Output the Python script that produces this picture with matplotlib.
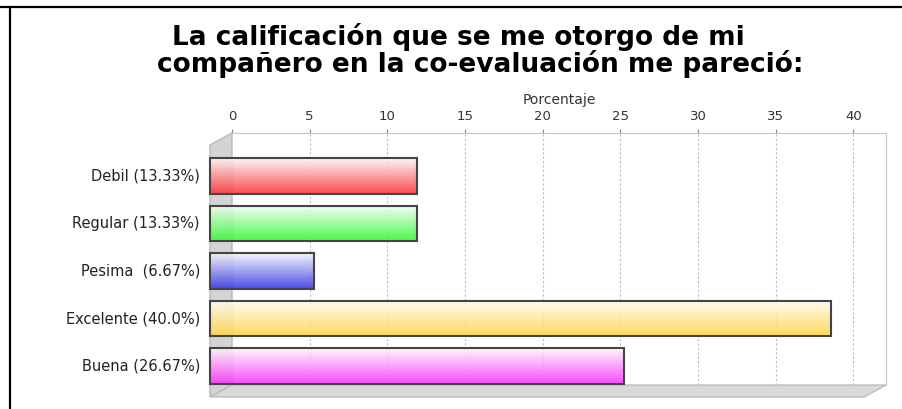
import matplotlib.pyplot as plt
import matplotlib.transforms as mtransforms
from matplotlib.patches import Rectangle, Polygon
from matplotlib.lines import Line2D
import numpy as np

# datos
categorias = ["Debil (13.33%)", "Regular (13.33%)", "Pesima  (6.67%)",
              "Excelente (40.0%)", "Buena (26.67%)"]
porcentajes = [13.33, 13.33, 6.67, 40.0, 26.67]
colores = ["#f83434", "#34f834", "#3434e0", "#ffd445", "#f834f8"]
ticks = [0, 5, 10, 15, 20, 25, 30, 35, 40]

W, H = 902, 409
fig = plt.figure(figsize=(W / 100, H / 100), dpi=100)

# back wall of the 3d plot (pixel coords from the picture)
bx0, bx1, by0, by1 = 232, 886, 133, 385
ax = fig.add_axes([bx0 / W, 1 - by1 / H, (bx1 - bx0) / W, (by1 - by0) / H])

dx, dy = -22, -12
off = mtransforms.ScaledTranslation(dx / 100, dy / 100, fig.dpi_scale_trans)
tr_front = ax.transData + off
tr_front_ax = ax.transAxes + off

# left wall and floor
inv = ax.transAxes.inverted()
p_back = [ax.transAxes.transform(p) for p in [(0, 1), (0, 0)]]
p_front = [tr_front_ax.transform(p) for p in [(0, 0), (0, 1)]]
wall_pts = [inv.transform(p) for p in p_back + p_front]
ax.add_patch(Polygon(wall_pts, closed=True, transform=ax.transAxes, fc="#d4d4d4",
                     ec="#b8b8b8", lw=1, clip_on=False, zorder=1))
floor_back = [ax.transAxes.transform(p) for p in [(0, 0), (1, 0)]]
floor_front = [tr_front_ax.transform(p) for p in [(1, 0), (0, 0)]]
floor_pts = [inv.transform(p) for p in floor_back + floor_front]
ax.add_patch(Polygon(floor_pts, closed=True, transform=ax.transAxes, fc="#d9d9d9",
                     ec="#bdbdbd", lw=1, clip_on=False, zorder=1))

# gridlines on the back wall and on the floor
xmax = 42.1
for t in ticks[1:]:
    ax.axvline(t, color="#bcbcbc", lw=0.8, ls=(0, (2, 2)), zorder=0)
    a = ax.transData.transform((t, 4.65))
    b = tr_front.transform((t, 4.65))
    ax.add_line(Line2D([a[0], b[0]], [a[1], b[1]], transform=None, color="#c4c4c4",
                       lw=0.7, ls=(0, (2, 2)), zorder=1.5, clip_on=False))

# bars with vertical gradient
h = 0.75
for i, (v, c) in enumerate(zip(porcentajes, colores)):
    rgb = np.array(plt.matplotlib.colors.to_rgb(c))
    t = np.linspace(0.05, 1.0, 64)[:, None]
    grad = (1 - t) * np.ones(3) + t * rgb
    img = np.concatenate([grad, np.full((64, 1), 0.88)], axis=1)[:, None, :]
    ax.imshow(img, extent=(0, v, i + h / 2, i - h / 2), origin="upper", aspect="auto",
              transform=tr_front, clip_on=False, zorder=2, interpolation="bilinear")
    ax.add_patch(Rectangle((0, i - h / 2), v, h, transform=tr_front, fill=False,
                           ec="#444444", lw=1.5, clip_on=False, zorder=3))

ax.set_xlim(0, xmax)
ax.set_ylim(4.65, -0.65)
ax.set_xticks(ticks)
ax.set_yticks([])
ax.xaxis.tick_top()
ax.tick_params(axis="x", length=3, width=0.8, color="#888888", pad=4,
               labelsize=9.5, labelcolor="#333333")
for s in ["top", "right"]:
    ax.spines[s].set_color("#c8c8c8")
for s in ["left", "bottom"]:
    ax.spines[s].set_visible(False)
ax.patch.set_alpha(0)

# category labels
for i, lab in enumerate(categorias):
    x, y = tr_front.transform((0, i))
    fig.text((x - 10) / W, y / H, lab, ha="right", va="center", fontsize=10.5,
             color="#222222")

fig.text(559 / W, 1 - 100 / H, "Porcentaje", ha="center", va="center", fontsize=10,
         color="#333333")

# title
fig.text(458 / W, 1 - 45 / H, "La calificación que se me otorgo de mi", ha="center",
         va="baseline", fontsize=19, fontweight="bold")
fig.text(480 / W, 1 - 72 / H, "compañero en la co-evaluación me pareció:", ha="center",
         va="baseline", fontsize=19, fontweight="bold")

# frame lines
fig.add_artist(Line2D([0, 1], [1 - 7 / H, 1 - 7 / H], transform=fig.transFigure,
                      color="black", lw=1.6))
fig.add_artist(Line2D([10 / W, 10 / W], [0, 1 - 7 / H], transform=fig.transFigure,
                      color="black", lw=1.6))

fig.savefig("out.png", dpi=100)
